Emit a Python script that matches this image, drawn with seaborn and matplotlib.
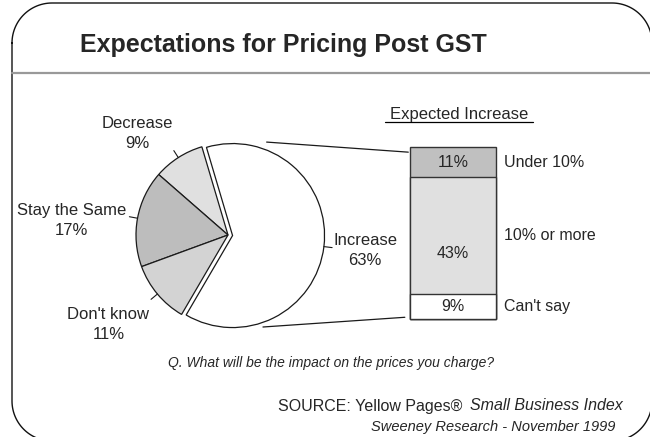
import numpy as np
import matplotlib
matplotlib.use("Agg")
import matplotlib.pyplot as plt
from matplotlib.patches import ConnectionPatch
import seaborn as sns

# main pie: answers to the question
pie_labels = ["Increase", "Decrease", "Stay the Same", "Don't know"]
pie_values = [63, 9, 17, 11]
pie_colors = ["#ffffff", "#e0e0e0", "#bdbdbd", "#d3d3d3"]

# breakdown of the "Increase" slice, top to bottom
bar_labels = ["Under 10%", "10% or more", "Can't say"]
bar_values = [11, 43, 9]
bar_colors = ["#c0c0c0", "#e0e0e0", "#ffffff"]

title = "Expectations for Pricing Post GST"
bar_title = "Expected Increase"
question = "Q. What will be the impact on the prices you charge?"

sns.set_theme(style="white")
plt.rcParams['font.family'] = ['Liberation Sans', 'DejaVu Sans']

W, H = 650, 437
fig = plt.figure(figsize=(W / 100, H / 100), dpi=100)

# background axes in pixel units (y down), for frame and free text
bg = fig.add_axes([0, 0, 1, 1])
bg.set_xlim(0, W)
bg.set_ylim(H, 0)
bg.axis('off')


def rounded_frame(x0, y0, x1, y1, r):
    # corner centres with their angle ranges (y axis points down)
    corners = [((x0 + r, y0 + r), 180, 270), ((x1 - r, y0 + r), 270, 360),
               ((x1 - r, y1 - r), 0, 90), ((x0 + r, y1 - r), 90, 180)]
    xs, ys = [], []
    for (ccx, ccy), a1, a2 in corners:
        t = np.deg2rad(np.linspace(a1, a2, 30))
        xs.extend(ccx + r * np.cos(t))
        ys.extend(ccy + r * np.sin(t))
    xs.append(xs[0])
    ys.append(ys[0])
    return xs, ys


fx, fy = rounded_frame(12, 3, 652, 441, 40)
bg.plot(fx, fy, color='#111111', lw=1.0)
bg.plot([12, W], [73, 73], color='#999999', lw=1.6)
bg.text(283, 45, title, ha='center', va='center', fontsize=18, fontweight='bold')
bg.text(459, 114, bar_title, ha='center', va='center', fontsize=12)
bg.plot([385, 533], [122, 122], color='black', lw=0.9)
bg.text(331, 363, question, ha='center', va='center', fontsize=10, style='italic')
bg.text(462, 406, "SOURCE: Yellow Pages®", ha='right', va='center', fontsize=11.5)
bg.text(470, 406, "Small Business Index", ha='left', va='center', fontsize=11.5, style='italic')
bg.text(615, 427, "Sweeney Research - November 1999", ha='right', va='center',
        fontsize=10.5, style='italic')

# pie
R = 92
cx, cy = 228, 235
side = 2.4 * R
ax_pie = fig.add_axes([(cx - side / 2) / W, (H - cy - side / 2) / H, side / W, side / H])
wedges, _ = ax_pie.pie(pie_values, colors=pie_colors, startangle=-120.3, counterclock=True,
                       explode=[0.05, 0, 0, 0],
                       wedgeprops=dict(edgecolor='#1a1a1a', linewidth=0.9))
ax_pie.set_xlim(-1.2, 1.2)
ax_pie.set_ylim(-1.2, 1.2)
ax_pie.axis('off')

label_pos = [(1.49, -0.17), (-0.99, 1.10), (-1.70, 0.16), (-1.30, -0.97)]
for w, lab, val, (tx, ty) in zip(wedges, pie_labels, pie_values, label_pos):
    ang = np.deg2rad((w.theta1 + w.theta2) / 2)
    x0, y0 = w.center
    ax_pie.plot([x0 + np.cos(ang), x0 + 1.09 * np.cos(ang)],
                [y0 + np.sin(ang), y0 + 1.09 * np.sin(ang)],
                color='#1a1a1a', lw=0.8, clip_on=False)
    ax_pie.text(tx, ty, f"{lab}\n{val}%", ha='center', va='center', fontsize=12,
                linespacing=1.45, clip_on=False)

# stacked bar for the increase breakdown
ax_bar = fig.add_axes([410 / W, (H - 319) / H, 86 / W, 172 / H])
tops = np.cumsum(bar_values[::-1])[::-1]
bottoms = tops - np.array(bar_values)
for top, col in zip(tops, bar_colors):
    sns.barplot(x=["Increase"], y=[top], color=col, saturation=1, width=0.8,
                edgecolor='#333333', linewidth=1.0, ax=ax_bar)
for p in ax_bar.patches:
    p.set_clip_on(False)
ax_bar.set_xlim(-0.4, 0.4)
ax_bar.set_ylim(0, tops[0])
ax_bar.axis('off')

mids = (tops + bottoms) / 2
for i, (lab, val, m) in enumerate(zip(bar_labels, bar_values, mids)):
    inner_y = m - 6.5 if i == 1 else m
    ax_bar.text(0, inner_y, f"{val}%", ha='center', va='center', fontsize=11.5)
    ax_bar.text(0.47, m, lab, ha='left', va='center', fontsize=11.5, clip_on=False)

# connector lines from the increase slice to the bar
for pie_pt, bar_pt in [((0.42, 1.01), (-0.02, 0.97)), ((0.38, -1.0), (-0.06, 0.01))]:
    con = ConnectionPatch(xyA=pie_pt, coordsA=ax_pie.transData,
                          xyB=bar_pt, coordsB=ax_bar.transAxes,
                          color='#1a1a1a', lw=0.9)
    fig.add_artist(con)

fig.savefig("out.png", dpi=100, facecolor='white')
